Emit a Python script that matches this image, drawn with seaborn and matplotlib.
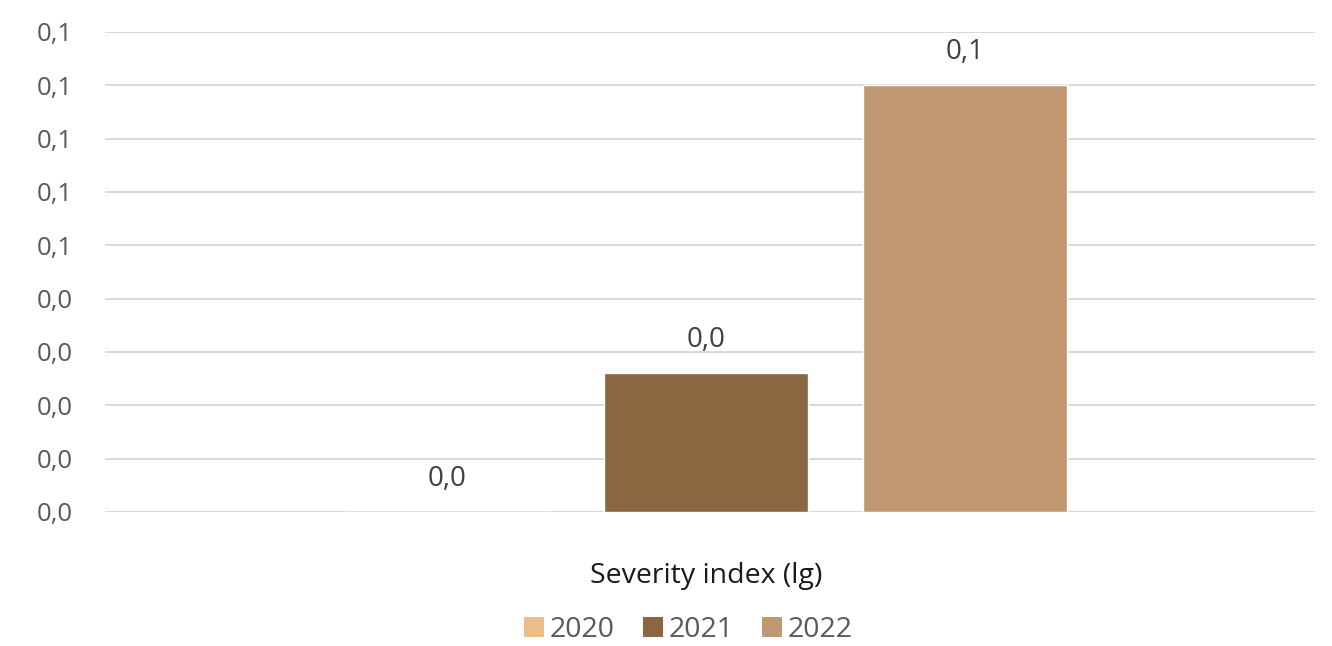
import matplotlib
matplotlib.use("Agg")
import matplotlib.pyplot as plt
from matplotlib.patches import Patch
from matplotlib.ticker import FixedLocator, FuncFormatter
from decimal import Decimal, ROUND_HALF_UP
import pandas as pd
import seaborn as sns

# Data
indicator = ["Severity index (lg)"]
years = ["2020", "2021", "2022"]
values = [0.0, 0.026, 0.08]
colors = ["#EDBC8B", "#8B6641", "#BF9872"]
y_ticks = [0.00, 0.01, 0.02, 0.03, 0.04, 0.05, 0.06, 0.07, 0.08, 0.09]

df = pd.DataFrame({
    "indicator": indicator * len(years),
    "year": years,
    "value": values,
})

sns.set_theme(style="white")
plt.rcParams["font.family"] = ["Open Sans", "DejaVu Sans"]


def comma1(v):
    d = Decimal(str(round(v, 6))).quantize(Decimal("0.1"), rounding=ROUND_HALF_UP)
    return str(d).replace(".", ",")


fig = plt.figure(figsize=(13.32, 6.46), dpi=100)
ax = fig.add_axes([105 / 1332, 134 / 646, 1210 / 1332, 480 / 646])

palette = dict(zip(years, colors))
sns.barplot(data=df, x="indicator", y="value", hue="year", hue_order=years,
            palette=palette, width=0.8, gap=0.21, saturation=1, ax=ax,
            legend=False)

ax.set_ylim(0, 0.09)
ax.set_xlim(-0.619, 0.627)
ax.yaxis.set_major_locator(FixedLocator(y_ticks))
ax.yaxis.set_major_formatter(FuncFormatter(lambda v, p: comma1(v)))
ax.grid(axis="y", color="#D9D9D9", linewidth=1.4)
ax.set_axisbelow(True)
for s in ax.spines.values():
    s.set_visible(False)

ax.tick_params(axis="y", length=0, pad=23, labelsize=18.5, labelcolor="#595959")
ax.tick_params(axis="x", length=0, pad=36, labelsize=20.5, labelcolor="#1a1a1a")
ax.set_xlabel("")
ax.set_ylabel("")

for container, v in zip(ax.containers, values):
    ax.bar_label(container, labels=[comma1(v)], padding=14,
                 fontsize=20, color="#404040")

handles = [Patch(facecolor=c, edgecolor="none") for c in colors]
fig.legend(handles, years, loc="center", bbox_to_anchor=(688 / 1332, 1 - 630 / 646),
           ncol=3, frameon=False, fontsize=20.5, handlelength=0.7,
           handleheight=0.7, handletextpad=0.2, columnspacing=1.0,
           labelcolor="#595959")

fig.savefig("out.png", dpi=100, facecolor="white")
